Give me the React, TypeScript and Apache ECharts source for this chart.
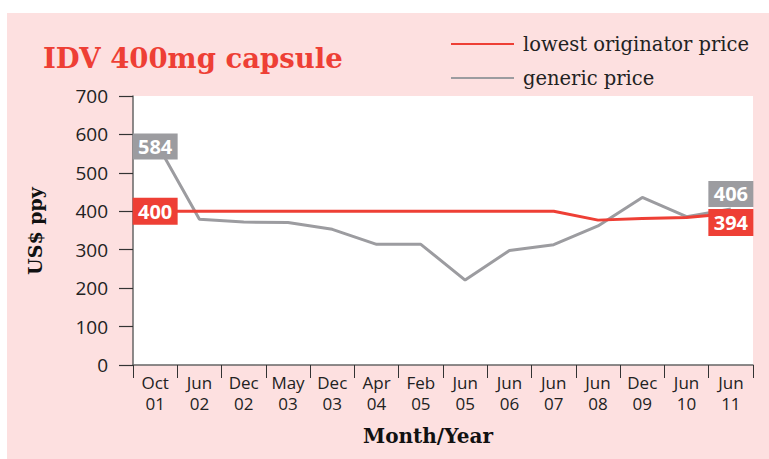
import React, { useEffect, useRef } from "react";
import * as echarts from "echarts";

const months = ["Oct", "Jun", "Dec", "May", "Dec", "Apr", "Feb", "Jun", "Jun", "Jun", "Jun", "Dec", "Jun", "Jun"];
const years = ["01", "02", "02", "03", "03", "04", "05", "05", "06", "07", "08", "09", "10", "11"];
const categories = months.map((m, i) => `${m} ${years[i]}`);
const originatorPrice = [400, 400, 400, 400, 400, 400, 400, 400, 400, 400, 377, 381, 384, 394];
const genericPrice = [584, 379, 372, 371, 353, 314, 314, 221, 298, 313, 362, 436, 386, 406];
const yTicks = { min: 0, max: 700, interval: 100 };

const RED = "#ee3f35";
const GRAY = "#9c9ca0";
const PINK = "#fde0e0";

export default function App() {
  const ref = useRef<HTMLDivElement>(null);
  useEffect(() => {
    if (!ref.current) return;
    const chart = echarts.init(ref.current, null, { renderer: "svg" });
    const last = categories.length - 1;
    const labelStyle = {
      show: true,
      position: "inside",
      color: "#fff",
      fontWeight: "bold",
      fontSize: 20,
      fontFamily: "Open Sans",
      formatter: "{c}",
    };
    const xLabelStyle = {
      color: "#222",
      fontFamily: "Open Sans",
      fontSize: 17,
      interval: 0,
    };
    chart.setOption({
      animation: false,
      backgroundColor: "#fff",
      graphic: [
        {
          type: "rect",
          z: -100,
          silent: true,
          shape: { x: 7, y: 13, width: 762, height: 446 },
          style: { fill: PINK },
        },
        {
          type: "text",
          x: 43,
          y: 58,
          style: {
            text: "IDV 400mg capsule",
            fill: RED,
            fontFamily: "DejaVu Serif",
            fontWeight: "bold",
            fontSize: 27.5,
            verticalAlign: "middle",
            align: "left",
          },
        },
        {
          type: "text",
          x: 35,
          y: 231,
          rotation: Math.PI / 2,
          style: {
            text: "US$ ppy",
            fill: "#111",
            fontFamily: "DejaVu Serif",
            fontWeight: "bold",
            fontSize: 19,
            align: "center",
            verticalAlign: "middle",
          },
        },
        {
          type: "text",
          x: 428,
          y: 436,
          style: {
            text: "Month/Year",
            fill: "#111",
            fontFamily: "DejaVu Serif",
            fontWeight: "bold",
            fontSize: 20,
            align: "center",
            verticalAlign: "middle",
          },
        },
      ],
      legend: {
        orient: "vertical",
        left: 445,
        top: 29,
        itemWidth: 63,
        itemHeight: 20,
        itemGap: 14,
        data: ["lowest originator price", "generic price"],
        itemStyle: { opacity: 0 },
        textStyle: {
          fontFamily: "DejaVu Serif",
          fontSize: 19.5,
          color: "#222",
          padding: [0, 0, 0, 4],
        },
      },
      grid: {
        left: 133,
        right: 16,
        top: 96,
        bottom: 94,
        show: true,
        backgroundColor: "#fff",
        borderWidth: 0,
      },
      xAxis: [
        {
          type: "category",
          data: categories,
          boundaryGap: true,
          axisLine: { lineStyle: { color: "#666", width: 1.5 } },
          axisTick: { show: true, length: 13, lineStyle: { color: "#333", width: 1 } },
          axisLabel: { ...xLabelStyle, margin: 9, formatter: (_v: string, i: number) => months[i] },
        },
        {
          type: "category",
          data: categories,
          position: "bottom",
          offset: 21,
          boundaryGap: true,
          axisLine: { show: false },
          axisTick: { show: false },
          axisLabel: { ...xLabelStyle, margin: 9, formatter: (_v: string, i: number) => years[i] },
        },
      ],
      yAxis: {
        type: "value",
        min: yTicks.min,
        max: yTicks.max,
        interval: yTicks.interval,
        splitLine: { show: false },
        axisLine: { show: true, lineStyle: { color: "#666", width: 1.5 } },
        axisTick: { show: true, length: 14, lineStyle: { color: "#333", width: 1.2 } },
        axisLabel: {
          color: "#222",
          fontFamily: "Open Sans",
          fontSize: 19,
          margin: 25,
        },
      },
      series: [
        {
          name: "generic price",
          type: "line",
          data: genericPrice,
          symbol: "none",
          lineStyle: { color: GRAY, width: 3 },
          itemStyle: { color: GRAY },
          markPoint: {
            symbol: "rect",
            symbolSize: [45, 26],
            itemStyle: { color: GRAY },
            label: labelStyle,
            data: [
              { coord: [categories[0], genericPrice[0]], value: genericPrice[0], symbolOffset: [0, 6] },
              { coord: [categories[last], genericPrice[last]], value: genericPrice[last], symbolOffset: [0, -15] },
            ],
          },
        },
        {
          name: "lowest originator price",
          type: "line",
          data: originatorPrice,
          symbol: "none",
          lineStyle: { color: RED, width: 3 },
          itemStyle: { color: RED },
          markPoint: {
            symbol: "rect",
            symbolSize: [45, 27],
            itemStyle: { color: RED },
            label: labelStyle,
            data: [
              { coord: [categories[0], originatorPrice[0]], value: originatorPrice[0], symbolOffset: [0, 0] },
              { coord: [categories[last], originatorPrice[last]], value: originatorPrice[last], symbolOffset: [0, 9] },
            ],
          },
        },
      ],
    });
    return () => chart.dispose();
  }, []);
  return (
    <div
      ref={ref}
      style={{ position: "absolute", left: 0, top: 0, width: 769, height: 459 }}
    />
  );
}
